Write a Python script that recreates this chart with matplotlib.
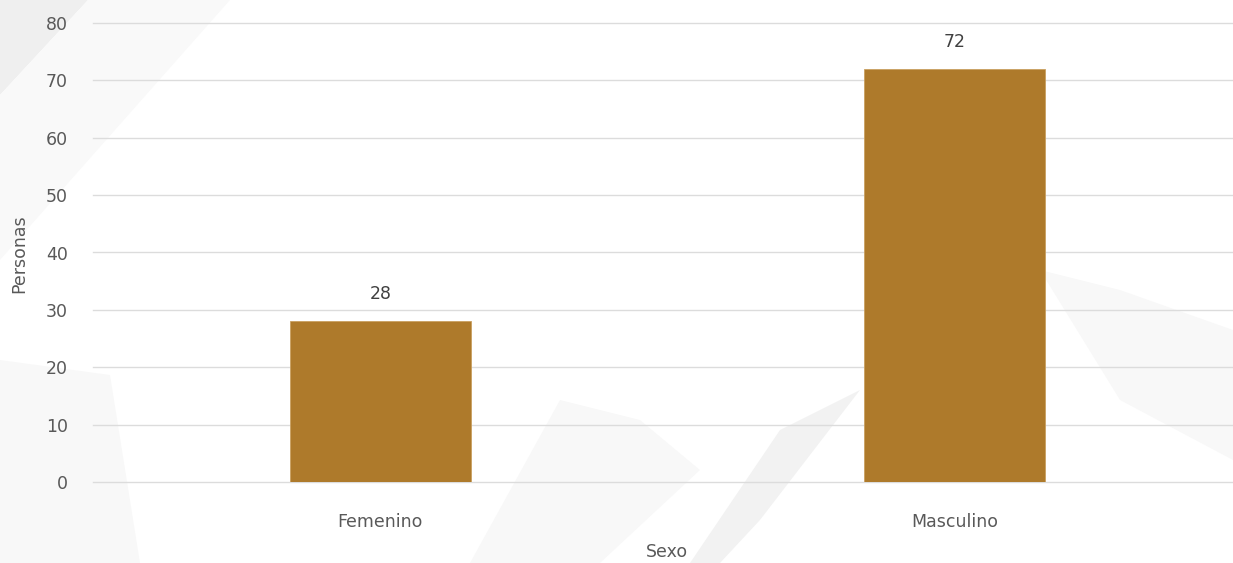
import matplotlib
matplotlib.use("Agg")
import matplotlib.pyplot as plt
from matplotlib.patches import Polygon
import numpy as np

categories = ["Femenino", "Masculino"]
values = [28, 72]
yticks = [0, 10, 20, 30, 40, 50, 60, 70, 80]

W, H = 1233, 563
fig = plt.figure(figsize=(W / 100, H / 100), dpi=100)
fig.patch.set_facecolor("white")

# background axes for subtle decorative shapes (pixel coords, y down)
bg = fig.add_axes([0, 0, 1, 1], zorder=-10)
bg.set_xlim(0, W)
bg.set_ylim(H, 0)
bg.axis("off")
shapes = [
    ([(0, 0), (88, 0), (0, 95)], "#efefef"),
    ([(88, 0), (230, 0), (0, 260), (0, 95)], "#f9f9f9"),
    ([(0, 360), (110, 375), (140, 563), (0, 563)], "#f8f8f8"),
    ([(560, 400), (640, 420), (700, 470), (600, 563), (470, 563)], "#f8f8f8"),
    ([(780, 430), (860, 390), (760, 520), (720, 563), (690, 563)], "#f2f2f2"),
    ([(1040, 270), (1120, 290), (1233, 330), (1233, 460), (1120, 400)], "#f8f8f8"),
]
for pts, c in shapes:
    bg.add_patch(Polygon(pts, closed=True, facecolor=c, edgecolor="none"))

left = 93 / W
right = 1242 / W
bottom = 1 - 482 / H
top = 1 - 23 / H
ax = fig.add_axes([left, bottom, right - left, top - bottom], zorder=1)
ax.set_facecolor("none")

x = np.arange(len(categories))
bars = ax.bar(x, values, width=0.315, color="#AE7A2B", edgecolor="#C9A060",
              linewidth=0.6, zorder=3)

ax.set_xlim(-0.5, 1.5)
ax.set_ylim(0, 80)
ax.set_yticks(yticks)
ax.set_xticks(x)
ax.set_xticklabels(categories)
ax.yaxis.grid(True, color="#dcdcdc", linewidth=1.0, zorder=0)
ax.set_axisbelow(True)
for gl in ax.get_ygridlines():
    gl.set_clip_on(False)
for s in ax.spines.values():
    s.set_visible(False)
ax.tick_params(axis="both", length=0, colors="#595959", labelsize=12.5)
ax.tick_params(axis="y", pad=18)
ax.tick_params(axis="x", pad=22)

for b, v in zip(bars, values):
    ax.annotate(str(v), (b.get_x() + b.get_width() / 2, v),
                xytext=(0, 13), textcoords="offset points",
                ha="center", va="bottom", fontsize=12.5, color="#404040")

fig.text(19 / W, 1 - 254 / H, "Personas", rotation=90, ha="center", va="center",
         fontsize=12.5, color="#595959")
fig.text(667 / W, 1 - 552 / H, "Sexo", ha="center", va="center",
         fontsize=12.5, color="#595959")

fig.savefig("out.png", dpi=100, facecolor=fig.get_facecolor())
